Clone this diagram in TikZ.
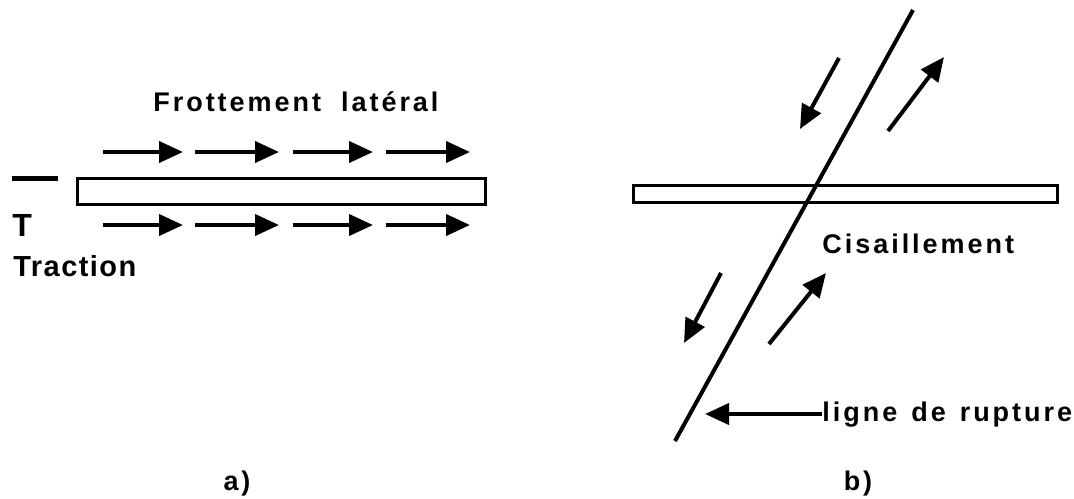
\documentclass[tikz,border=0pt]{standalone}
\usepackage{fontspec}
\newfontfamily\labelfont{Liberation Sans}[LetterSpace=11]
\newfontfamily\tractfont{Liberation Sans}[LetterSpace=5]
\usetikzlibrary{arrows.meta,positioning}

\begin{document}
\begin{tikzpicture}[x=0.5pt, y=-0.5pt,
    >={Triangle[length=12pt,width=10.5pt]},
    force/.style={->, line width=2pt},
    bar/.style={draw, line width=1.5pt, fill=white, inner sep=0pt},
    lbl/.style={font=\labelfont\fontsize{13.5}{16}\selectfont\bfseries, inner sep=0pt},
    biglbl/.style={font=\tractfont\fontsize{14.5}{17}\selectfont\bfseries, inner sep=0pt}]

  \useasboundingbox (0,0) rectangle (1074,498);

  %--- a) bar in traction, lateral friction
  \node[bar, minimum width=204pt, minimum height=13pt] (barA) at (281,191) {};
  \node[lbl, anchor=base west] (frot) at (153,111.7) {Frottement\hspace{10pt}latéral};

  \draw[force] (103,152) -- (183,152);
  \draw[force] (195,152) -- (279,152);
  \draw[force] (293,152) -- (373,152);
  \draw[force] (386,152) -- (470,152);

  \draw[force] (103,225) -- (183,225);
  \draw[force] (195,225) -- (279,225);
  \draw[force] (293,225) -- (373,225);
  \draw[force] (386,225) -- (470,225);

  \draw[line width=2.5pt] (12,178) -- (58,178);
  \node[biglbl, font=\tractfont\fontsize{16}{18}\selectfont\bfseries, anchor=base west] (T) at (12,236.7) {T};
  \node[biglbl, anchor=base west] (trac) at (13,276.7) {Traction};

  \node[lbl, anchor=base] (capA) at (237,490) {a)};

  %--- b) bar across the failure line, shear
  \node[bar, minimum width=212pt, minimum height=8.5pt] (barB) at (845,193.5) {};
  \coordinate (faultTop) at (913,10);
  \coordinate (faultBot) at (675,441);
  \draw[line width=2pt] (faultTop) -- (faultBot);

  \draw[force] (839,58) -- (800,129);
  \draw[force] (888,131) -- (944,57);
  \draw[force] (721,273) -- (684,343);
  \draw[force] (769,344) -- (826,273);

  \node[lbl, anchor=base west] (cis) at (822,253.3) {Cisaillement};
  \node[lbl, anchor=base west] (rupt) at (822,421) {ligne\hspace{7pt}de\hspace{7pt}rupture};
  \coordinate (ruptTip) at (705,414);
  \draw[force] (rupt.west |- ruptTip) -- (ruptTip);

  \node[lbl, anchor=base] (capB) at (858,490) {b)};

\end{tikzpicture}
\end{document}
